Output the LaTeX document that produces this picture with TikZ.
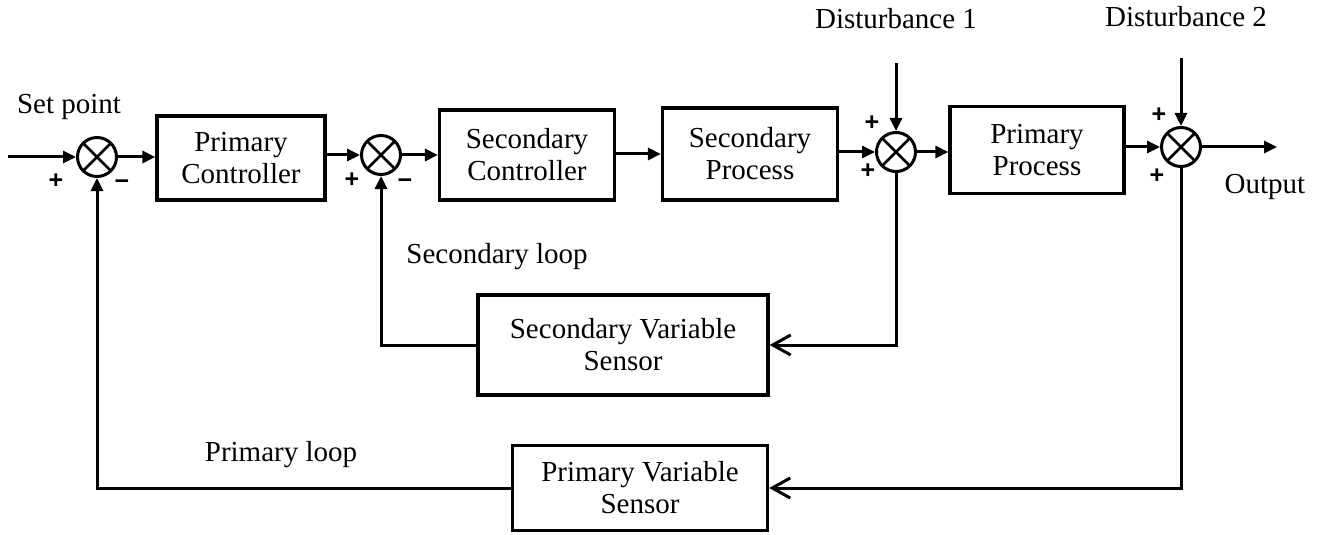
\documentclass[tikz,border=0pt]{standalone}
\usepackage{fontspec}
\setmainfont{Liberation Serif}
\newfontfamily\signfont{Liberation Sans}
\usetikzlibrary{positioning, arrows.meta}

\begin{document}
\begin{tikzpicture}[
  x=0.5pt, y=-0.5pt,
  font=\fontsize{14.5}{16}\selectfont,
  blk/.style={draw, line width=1.6pt, align=center, inner sep=0pt},
  sumj/.style={draw, circle, line width=1.5pt, minimum size=19.5pt, inner sep=0pt,
               path picture={\draw[line width=1.4pt]
                 (path picture bounding box.north west) -- (path picture bounding box.south east)
                 (path picture bounding box.north east) -- (path picture bounding box.south west);}},
  sig/.style={line width=1.5pt, -{Triangle[length=6.5pt, width=6pt]}},
  fb/.style={line width=1.5pt, -{Straight Barb[length=9pt, width=10pt, line width=1.5pt]}},
  sgn/.style={font=\signfont\bfseries\fontsize{12.5}{14}\selectfont, inner sep=0pt},
  lbl/.style={inner sep=0pt}
]
\useasboundingbox (0,0) rectangle (1317,535);

% ---- Forward path ----
\coordinate (setin) at (8,157);
\node[lbl] (setlbl) at (69,107) {Set point};
\node[sumj] (sum1) at (97,157) {};
\node[blk, minimum width=84pt, minimum height=42pt] (pctrl) at (241,158) {Primary\\Controller};
\node[sumj] (sum2) at (381,155) {};
\node[blk, minimum width=87.5pt, minimum height=45pt] (sctrl) at (527,155) {Secondary\\Controller};
\node[blk, minimum width=87.5pt, minimum height=46pt] (sproc) at (750,154) {Secondary\\Process};
\node[sumj] (sum3) at (896,152) {};
\node[blk, minimum width=87pt, minimum height=43.5pt] (pproc) at (1037,150) {Primary\\Process};
\node[sumj] (sum4) at (1181,147) {};
\coordinate (outp) at (1277,147);
\node[lbl] (outlbl) at (1265,187) {Output};

\draw[sig] (setin) -- (sum1.west);
\draw[sig] (sum1.east) -- (pctrl.west |- sum1);
\draw[sig] (pctrl.east |- sum2) -- (sum2.west);
\draw[sig] (sum2.east) -- (sctrl.west |- sum2);
\draw[sig] (sctrl.east |- sproc) -- (sproc.west);
\draw[sig] (sproc.east |- sum3) -- (sum3.west);
\draw[sig] (sum3.east) -- (pproc.west |- sum3);
\draw[sig] (pproc.east |- sum4) -- (sum4.west);
\draw[sig] (sum4.east) -- (outp);

% ---- Disturbances ----
\node[lbl] (dist1) at (896,19) {Disturbance 1};
\node[lbl] (dist2) at (1186,17) {Disturbance 2};
\coordinate (d1in) at (896,63);
\coordinate (d2in) at (1181,58);
\draw[sig] (d1in) -- (sum3.north);
\draw[sig] (d2in) -- (sum4.north);

% ---- Signs ----
\node[sgn] (s1a) at (56,181) {+};
\node[sgn] (s1b) at (122,185) {−};
\node[sgn] (s2a) at (352,180) {+};
\node[sgn] (s2b) at (405,184) {−};
\node[sgn] (s3a) at (872,123) {+};
\node[sgn] (s3b) at (868,171) {+};
\node[sgn] (s4a) at (1159,115) {+};
\node[sgn] (s4b) at (1157,176) {+};

% ---- Secondary loop ----
\node[blk, minimum width=145pt, minimum height=50pt] (ssens) at (623,345) {Secondary Variable\\Sensor};
\node[lbl] (sloop) at (497,257) {Secondary loop};
\draw[fb] (sum3.south) |- (ssens.east);
\draw[sig] (ssens.west) -| (sum2.south);

% ---- Primary loop ----
\node[blk, minimum width=127.5pt, minimum height=42.5pt] (psens) at (640,488) {Primary Variable\\Sensor};
\node[lbl] (ploop) at (281,455) {Primary loop};
\draw[fb] (sum4.south) |- (psens.east);
\draw[sig] (psens.west) -| (sum1.south);

\end{tikzpicture}
\end{document}
